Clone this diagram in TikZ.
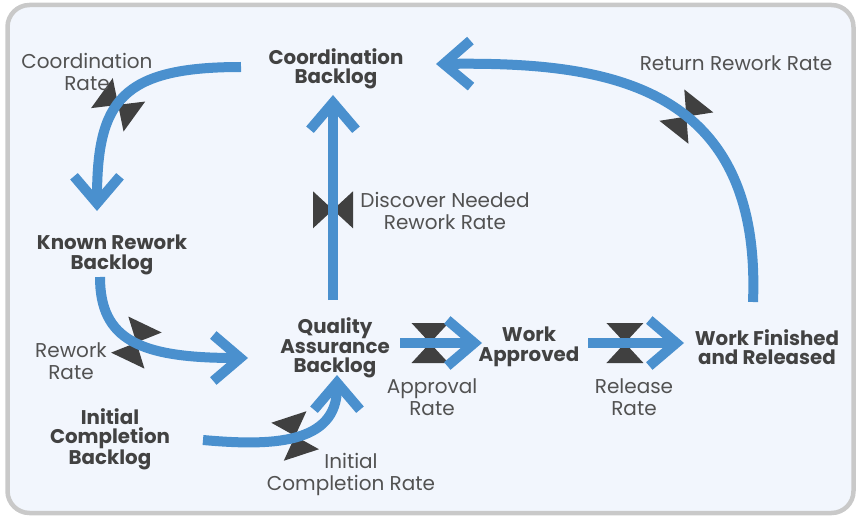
\documentclass[tikz,border=0pt]{standalone}
\usepackage{fontspec}
\setmainfont{Poppins}
\usetikzlibrary{arrows.meta,calc}

\definecolor{flowblue}{RGB}{74,144,206}
\definecolor{valvegray}{RGB}{64,64,64}
\definecolor{stocktext}{RGB}{66,66,66}
\definecolor{ratetext}{RGB}{82,82,82}
\definecolor{panel}{RGB}{242,246,253}
\definecolor{framegray}{RGB}{201,201,201}

\pgfdeclarelayer{back}
\pgfsetlayers{back,main}

\begin{document}
\begin{tikzpicture}[x=1pt,y=-1pt]
    \tikzstyle{stock} = [font=\bfseries\fontsize{19.8}{19.5}\selectfont, text=stocktext, align=center, inner sep=0pt]
    \tikzstyle{rate} = [font=\fontsize{20}{22}\selectfont, text=ratetext, align=center, inner sep=0pt]
    \tikzstyle{flow} = [draw=flowblue, line width=10pt, -{Straight Barb[length=27pt,width=46pt]}]
    \tikzstyle{valve} = [sloped, inner sep=0pt, minimum width=27pt, minimum height=30pt]

    \useasboundingbox (0,0) rectangle (857,516);

    % Frame
    \begin{pgfonlayer}{back}
    \draw[line width=4.5pt, framegray, fill=panel, rounded corners=22pt] (7.5,5) rectangle (853.5,513);
    \end{pgfonlayer}

    % Stocks
    \node[stock] (cb) at (336,69) {Coordination\\Backlog};
    \node[stock] (kb) at (112,255) {Known Rework\\Backlog};
    \node[stock] (qa) at (335,348) {Quality\\Assurance\\Backlog};
    \node[stock] (wa) at (529,347) {Work\\Approved};
    \node[stock] (wf) at (767,347) {Work Finished\\and Released};
    \node[stock] (ic) at (110,439) {Initial\\Completion\\Backlog};

    % Rates
    \node[rate] (lcr) at (87,72) {Coordination\\Rate};
    \node[rate] (ldn) at (445,211) {Discover Needed\\Rework Rate};
    \node[rate] (lrr) at (736,63) {Return Rework Rate};
    \node[rate] (lrw) at (71,361) {Rework\\Rate};
    \node[rate] (lap) at (432,397) {Approval\\Rate};
    \node[rate] (lre) at (634,397) {Release\\Rate};
    \node[rate] (lic) at (351,474) {Initial\\Completion Rate};

    % Flows
    \draw[flow] ([shift={(-95,-2)}]cb.center) .. controls +(-120,0) and +(0,-110) .. ([shift={(-15,-44)}]kb.center)
        node[valve, pos=0.55] (vcr) {};
    \draw[flow] ([shift={(-2,-48)}]qa.center) -- ([shift={(-3,26)}]cb.center)
        node[valve, pos=0.44] (vdn) {};
    \draw[flow] ([shift={(-14,-45)}]wf.center) .. controls +(9,-222) and +(164,-2) .. ([shift={(100,-5)}]cb.center)
        node[valve, pos=0.42] (vrr) {};
    \draw[flow] ([shift={(-12,22)}]kb.center) .. controls +(0,63) and +(-108,0) .. ([shift={(-87,10)}]qa.center)
        node[valve, pos=0.52] (vrw) {};
    \draw[flow] ([shift={(93,1)}]ic.center) .. controls +(67,6) and +(0,70) .. ([shift={(2,27)}]qa.center)
        node[valve, pos=0.5] (vic) {};
    \draw[flow] ([shift={(65,-5)}]qa.center) -- ([shift={(-47,-4)}]wa.center)
        node[valve, pos=0.366] (vap) {};
    \draw[flow] ([shift={(59,-4)}]wa.center) -- ([shift={(-83,-4)}]wf.center)
        node[valve, pos=0.385] (vre) {};

    % Valves (under the flows)
    \begin{pgfonlayer}{back}
    \foreach \v in {vcr,vdn,vrr,vrw,vic,vap,vre}
        \fill[valvegray] (\v.north west) -- (\v.north east) -- (\v.center) -- cycle
            (\v.south west) -- (\v.south east) -- (\v.center) -- cycle;
    \end{pgfonlayer}
\end{tikzpicture}
\end{document}
